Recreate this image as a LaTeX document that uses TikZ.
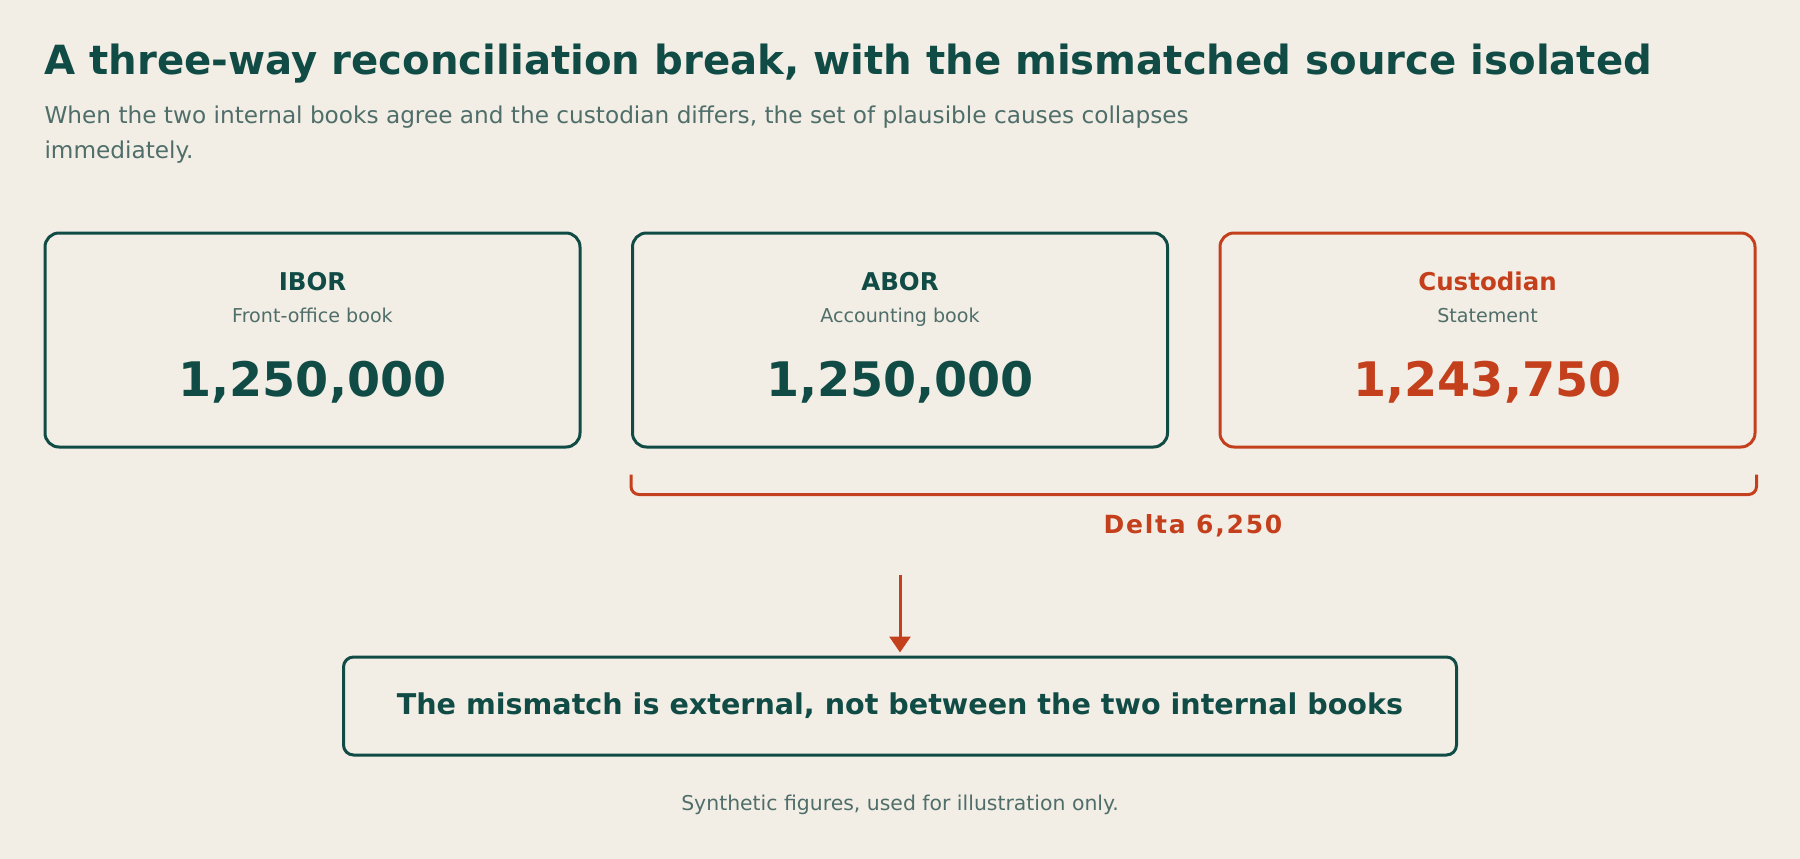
\documentclass[tikz,border=0pt]{standalone}
\usepackage{fontspec}
\setmainfont{DejaVu Sans}
\usetikzlibrary{positioning,arrows.meta}
\definecolor{inkteal}{HTML}{104C45}
\definecolor{rustred}{HTML}{C4401C}
\definecolor{paper}{HTML}{F3EEE5}
\definecolor{mutedteal}{HTML}{4F6E6A}
\begin{document}
\begin{tikzpicture}[x=1pt,y=-1pt]
    \tikzset{card/.style={draw=#1, line width=3pt, rounded corners=14pt, minimum width=535pt, minimum height=214pt, inner sep=0pt},
        cardname/.style={anchor=base, text=#1, font=\fontsize{24.5}{28}\selectfont\bfseries},
        cardsub/.style={anchor=base, text=mutedteal, font=\fontsize{19.1}{24}\selectfont},
        cardvalue/.style={anchor=base, text=#1, font=\fontsize{47.6}{56}\selectfont\bfseries}}
    %Hintergrund
    \fill[paper] (0,0) rectangle (1800,859);
    \useasboundingbox (0,0) rectangle (1800,859);

    %Titel
    \node[anchor=base west, text=inkteal, font=\fontsize{40.2}{48}\selectfont\bfseries] (title) at (41,75)
        {A three-way reconciliation break, with the mismatched source isolated};
    \node[anchor=base west, text=mutedteal, font=\fontsize{23.2}{28}\selectfont] (lede1) at (41,123)
        {When the two internal books agree and the custodian differs, the set of plausible causes collapses};
    \node[anchor=base west, text=mutedteal, font=\fontsize{23.2}{28}\selectfont] (lede2) at (41,158) {immediately.};

    %IBOR
    \node[card=inkteal] (ibor) at (312.5,340) {};
    \node[cardname=inkteal] (iborname) at ([yshift=-59pt]ibor.north) {IBOR};
    \node[cardsub] (iborsub) at ([yshift=-91pt]ibor.north) {Front-office book};
    \node[cardvalue=inkteal] (iborvalue) at ([yshift=-165pt]ibor.north) {1,250,000};

    %ABOR
    \node[card=inkteal] (abor) at (900,340) {};
    \node[cardname=inkteal] (aborname) at ([yshift=-59pt]abor.north) {ABOR};
    \node[cardsub] (aborsub) at ([yshift=-91pt]abor.north) {Accounting book};
    \node[cardvalue=inkteal] (aborvalue) at ([yshift=-165pt]abor.north) {1,250,000};

    %Custodian
    \node[card=rustred] (cust) at (1487.5,340) {};
    \node[cardname=rustred] (custname) at ([yshift=-59pt]cust.north) {Custodian};
    \node[cardsub] (custsub) at ([yshift=-91pt]cust.north) {Statement};
    \node[cardvalue=rustred] (custvalue) at ([yshift=-165pt]cust.north) {1,243,750};

    %Klammer
    \coordinate (bracketl) at ([yshift=-26pt]abor.south west);
    \coordinate (bracketr) at ([yshift=-26pt]cust.south east);
    \draw[rustred, line width=3pt, rounded corners=8pt] (bracketl) -- ++(0,20) -| (bracketr);
    \node[anchor=base, text=rustred, font=\fontsize{25}{30}\selectfont\bfseries\addfontfeature{LetterSpace=7}] (delta) at (1193,533) {Delta 6,250};

    %Ergebnis
    \node[draw=inkteal, line width=3pt, rounded corners=10pt, minimum width=1113pt, minimum height=98pt,
        text=inkteal, font=\fontsize{28.6}{34}\selectfont\bfseries] (verdict) at (900,706)
        {The mismatch is external, not between the two internal books};
    \coordinate (arrowtop) at (900,575);
    \draw[-{Triangle[width=21pt,length=16pt]}, rustred, line width=3pt, shorten >=3pt] (arrowtop) -- (verdict.north);

    %Fussnote
    \node[anchor=base, text=mutedteal, font=\fontsize{20.4}{24}\selectfont] (note) at (900,810)
        {Synthetic figures, used for illustration only.};
\end{tikzpicture}
\end{document}
